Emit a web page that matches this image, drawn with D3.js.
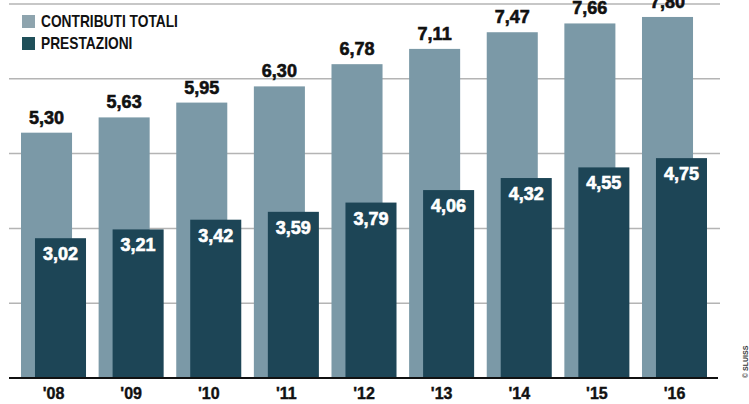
<!DOCTYPE html>
<html><head><meta charset="utf-8">
<script src="https://cdn.jsdelivr.net/npm/d3@7/dist/d3.min.js"></script>
<style>
html,body{margin:0;padding:0;background:#fff;}
svg{display:block;}
</style></head><body>
<svg id="c" width="749" height="404"></svg>
<script>
const years = ["'08","'09","'10","'11","'12","'13","'14","'15","'16"];
const contributi = [5.30,5.63,5.95,6.30,6.78,7.11,7.47,7.66,7.80];
const prestazioni = [3.02,3.21,3.42,3.59,3.79,4.06,4.32,4.55,4.75];
const seriesNames = ["CONTRIBUTI TOTALI","PRESTAZIONI"];
const yMax = 8.08;
const gridCount = 5;

const colLight = "#7b99a7", colDark = "#1d4556";
const fmt = v => v.toFixed(2).replace(".", ",");

const svg = d3.select("#c");
const baseY = 378, topY = 4;
const y = d3.scaleLinear().domain([0, yMax]).range([baseY, topY]);
const x = d3.scaleBand().domain(years).range([21, 707]).paddingInner(0.1624).paddingOuter(0);
const bw = x.bandwidth();
const barW = bw * 0.785, off = bw - barW;

const gridVals = d3.range(1, gridCount + 1).map(i => yMax * i / gridCount);
svg.append("g").selectAll("line").data(gridVals).join("line")
  .attr("x1", 9).attr("x2", 720)
  .attr("y1", d => y(d)).attr("y2", d => y(d))
  .attr("stroke", "#b4b4b4").attr("stroke-width", 1.5);

const font = "'Liberation Sans', Arial, sans-serif";

svg.append("g").selectAll("rect").data(years).join("rect")
  .attr("x", d => x(d)).attr("width", barW)
  .attr("y", (d,i) => y(contributi[i])).attr("height", (d,i) => baseY - y(contributi[i]))
  .attr("fill", colLight);
svg.append("g").selectAll("rect").data(years).join("rect")
  .attr("x", d => x(d) + off).attr("width", barW)
  .attr("y", (d,i) => y(prestazioni[i])).attr("height", (d,i) => baseY - y(prestazioni[i]))
  .attr("fill", colDark);

svg.append("g").selectAll("text").data(years).join("text")
  .attr("x", d => x(d) + barW/2).attr("y", (d,i) => y(contributi[i]) - 9)
  .attr("text-anchor", "middle").attr("font-family", font).attr("font-weight", "bold")
  .attr("font-size", 18).attr("fill", "#111").attr("stroke", "#111").attr("stroke-width", 0.6)
  .text((d,i) => fmt(contributi[i]));
svg.append("g").selectAll("text").data(years).join("text")
  .attr("x", d => x(d) + off + barW/2).attr("y", (d,i) => y(prestazioni[i]) + 22)
  .attr("text-anchor", "middle").attr("font-family", font).attr("font-weight", "bold")
  .attr("font-size", 18).attr("fill", "#fff").attr("stroke", "#fff").attr("stroke-width", 0.6)
  .text((d,i) => fmt(prestazioni[i]));

// baseline + axis labels
const xAxis = d3.axisBottom(x).tickSize(0).tickPadding(10);
const ax = svg.append("g").attr("transform", `translate(0,${baseY})`).call(xAxis);
ax.select(".domain").remove();
ax.selectAll("text").attr("font-family", font).attr("font-weight", "bold").attr("font-size", 16)
  .attr("fill", "#111").attr("stroke", "#111").attr("stroke-width", 0.4);
svg.append("line").attr("x1", 9).attr("x2", 718).attr("y1", baseY).attr("y2", baseY)
  .attr("stroke", "#111").attr("stroke-width", 2);

// legend
const lg = svg.append("g").selectAll("g").data(seriesNames).join("g")
  .attr("transform", (d,i) => `translate(22,${15 + i*22})`);
lg.append("rect").attr("width", 13).attr("height", 13).attr("fill", (d,i) => i ? "#1f4f59" : "#8ea4ae");
lg.append("text").attr("transform", "translate(19,12) scale(0.86,1)").attr("font-family", font)
  .attr("font-weight", "bold").attr("font-size", 16).attr("fill", "#111").text(d => d);

// credit
svg.append("text").attr("transform", "translate(748,378) rotate(-90)")
  .attr("font-family", font).attr("font-size", 7).attr("font-weight", "bold").attr("fill", "#333").text("© SLUISS");
</script></body></html>
